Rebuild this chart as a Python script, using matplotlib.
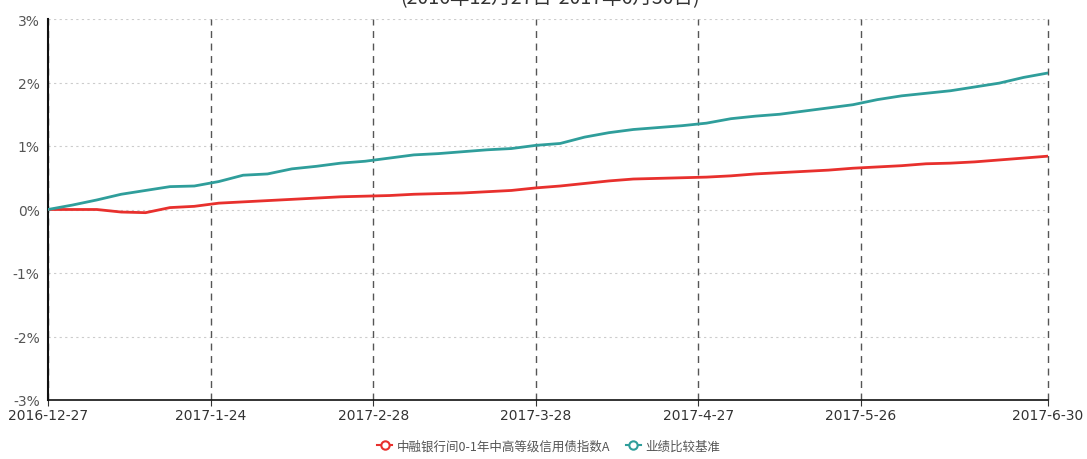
import matplotlib
matplotlib.use("Agg")
import matplotlib.pyplot as plt
from matplotlib.lines import Line2D

plt.rcParams['font.family'] = ['DejaVu Sans', 'Noto Sans CJK SC']

# ---- data ----
x_idx = [0, 3, 6, 9, 12, 15, 18, 21, 24, 27, 30, 33, 36, 39, 42, 45, 48, 51, 54, 57,
         60, 63, 66, 69, 72, 75, 78, 81, 84, 87, 90, 93, 96, 99, 102, 105, 108, 111,
         114, 117, 120, 123]
benchmark = [0.00, 0.07, 0.15, 0.24, 0.30, 0.36, 0.37, 0.44, 0.54, 0.56, 0.64, 0.68,
             0.73, 0.76, 0.81, 0.86, 0.88, 0.91, 0.94, 0.96, 1.01, 1.04, 1.14, 1.21,
             1.26, 1.29, 1.32, 1.36, 1.43, 1.47, 1.50, 1.55, 1.60, 1.65, 1.73, 1.79,
             1.83, 1.87, 1.93, 1.99, 2.08, 2.15]
index_a = [0.00, 0.00, 0.00, -0.04, -0.05, 0.03, 0.05, 0.10, 0.12, 0.14, 0.16, 0.18,
           0.20, 0.21, 0.22, 0.24, 0.25, 0.26, 0.28, 0.30, 0.34, 0.37, 0.41, 0.45,
           0.48, 0.49, 0.50, 0.51, 0.53, 0.56, 0.58, 0.60, 0.62, 0.65, 0.67, 0.69,
           0.72, 0.73, 0.75, 0.78, 0.81, 0.84]
tick_pos = [0, 20, 40, 60, 80, 100, 123]
tick_labels = ['2016-12-27', '2017-1-24', '2017-2-28', '2017-3-28', '2017-4-27',
               '2017-5-26', '2017-6-30']
y_ticks = [-3, -2, -1, 0, 1, 2, 3]
series_names = ['中融银行间0-1年中高等级信用债指数A', '业绩比较基准']
title = '(2016年12月27日-2017年6月30日)'

red = '#e8302d'
teal = '#2f9e9b'

fig = plt.figure(figsize=(10.87, 4.60), dpi=100)
ax = fig.add_axes([48/1087, 59/460, 1000/1087, 381/460])

# grid
for yv in y_ticks:
    ax.axhline(yv, color='#cccccc', linestyle=(0, (2, 3)), linewidth=0.8, zorder=0)
for xv in tick_pos:
    ax.axvline(xv, color='#555555', linestyle=(0, (5, 4)), linewidth=1.0, zorder=1,
               clip_on=False)

ax.plot(x_idx, index_a, color=red, linewidth=2.0, zorder=3)
ax.plot(x_idx, benchmark, color=teal, linewidth=2.0, zorder=3)

ax.set_xlim(0, 123)
ax.set_ylim(-3, 3)
ax.set_yticks(y_ticks)
ax.set_yticklabels([f'{v}%' for v in y_ticks], color='#555555', fontsize=10)
ax.set_xticks(tick_pos)
ax.set_xticklabels(tick_labels, color='#333333', fontsize=10)
ax.tick_params(axis='y', length=0, pad=6)
ax.tick_params(axis='x', length=4, color='#333333', pad=2)

for s in ['top', 'right']:
    ax.spines[s].set_visible(False)
ax.spines['left'].set_color('#111111')
ax.spines['left'].set_linewidth(1.5)
ax.spines['bottom'].set_color('#111111')
ax.spines['bottom'].set_linewidth(1.2)

fig.text(0.506, 1 + 1/460, title, ha='center', va='center', fontsize=14,
         color='#333333', family=['Noto Sans CJK SC', 'DejaVu Sans'])

handles = [
    Line2D([], [], color=red, marker='o', markersize=6, markerfacecolor='white',
           markeredgecolor=red, markeredgewidth=1.5, linestyle='-', linewidth=1.5),
    Line2D([], [], color=teal, marker='o', markersize=6, markerfacecolor='white',
           markeredgecolor=teal, markeredgewidth=1.5, linestyle='-', linewidth=1.5),
]
leg = fig.legend(handles, series_names, loc='center', bbox_to_anchor=(0.505, 13/460),
                 ncol=2, frameon=False, handlelength=1.2,
                 columnspacing=1.2, handletextpad=0.4,
                 prop={'family': ['Noto Sans CJK SC', 'DejaVu Sans'], 'size': 9})
for t in leg.get_texts():
    t.set_color('#555555')

fig.savefig('out.png', dpi=100)
